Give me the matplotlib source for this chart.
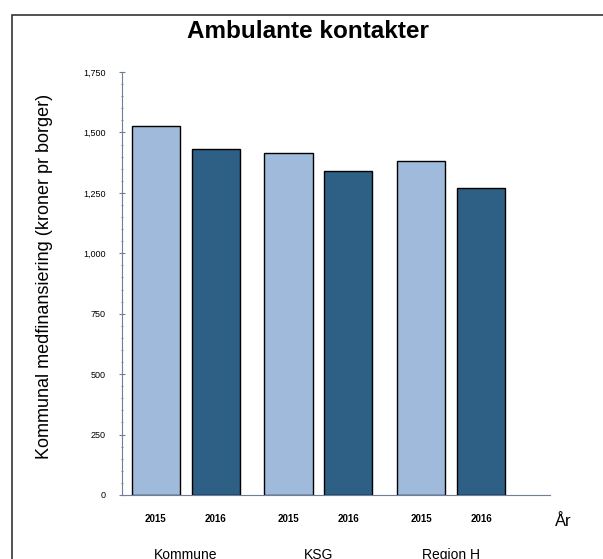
import matplotlib
matplotlib.use("Agg")
import matplotlib.pyplot as plt
import numpy as np
from matplotlib.patches import Rectangle
from matplotlib.ticker import MultipleLocator, FuncFormatter

# data
groups = ["Kommune", "KSG", "Region H"]
years = ["2015", "2016"]
values_2015 = [1525, 1415, 1383]
values_2016 = [1431, 1339, 1271]

light = "#a0badc"
dark = "#2e5f84"
axis_col = "#6f7f99"


def main():
    plt.rcParams['font.family'] = ['Liberation Sans', 'DejaVu Sans']
    fig = plt.figure(figsize=(6.03, 5.59), dpi=100)

    # frame round the figure (the picture is a crop, so it runs off right/bottom)
    fig.patches.append(Rectangle((12 / 603, -0.1), 1.2, 1 - 15 / 559 + 0.1,
                                 transform=fig.transFigure, fill=False,
                                 edgecolor="#333333", linewidth=1.2))

    ax = fig.add_axes([122 / 603, 1 - 495 / 559, 428 / 603, (495 - 72) / 559])

    x = np.arange(len(groups))
    off = 0.226
    w = 0.362
    ax.bar(x - off, values_2015, width=w, color=light, edgecolor="black", linewidth=1.0)
    ax.bar(x + off, values_2016, width=w, color=dark, edgecolor="black", linewidth=1.0)

    ax.set_xlim(-0.481, 2.745)
    ax.set_ylim(0, 1750)

    for s in ["top", "right"]:
        ax.spines[s].set_visible(False)
    ax.spines["left"].set_color(axis_col)
    ax.spines["bottom"].set_color(axis_col)

    ax.yaxis.set_major_locator(MultipleLocator(250))
    ax.yaxis.set_minor_locator(MultipleLocator(50))
    ax.yaxis.set_major_formatter(FuncFormatter(lambda v, p: f"{int(v):,}"))
    ax.tick_params(axis="y", which="major", labelsize=6.5, length=4, direction="inout",
                   color=axis_col, pad=10)
    ax.tick_params(axis="y", which="minor", length=2, direction="inout", color=axis_col)

    # year ticks under each bar
    pos = np.concatenate([x - off, x + off])
    labs = [years[0]] * len(groups) + [years[1]] * len(groups)
    ax.set_xticks(pos)
    ax.set_xticklabels(labs, fontsize=7, fontweight="bold")
    ax.tick_params(axis="x", length=0, pad=14)

    for xi, g in zip(x, groups):
        ax.text(xi, -0.143, g, transform=ax.get_xaxis_transform(), ha="center",
                va="center", fontsize=10)

    fig.text(563 / 603, 1 - 522 / 559, "År", ha="center", va="center", fontsize=12)

    # y label placed by hand (sits a bit lower than the axes centre)
    fig.text(45 / 603, 1 - 276 / 559, "Kommunal medfinansiering (kroner pr borger)",
             rotation=90, ha="center", va="center", fontsize=13)

    fig.text(308 / 603, 1 - 32 / 559, "Ambulante kontakter", ha="center", va="center",
             fontsize=17.5, fontweight="bold")

    fig.savefig("out.png", dpi=100)


if __name__ == "__main__":
    main()
